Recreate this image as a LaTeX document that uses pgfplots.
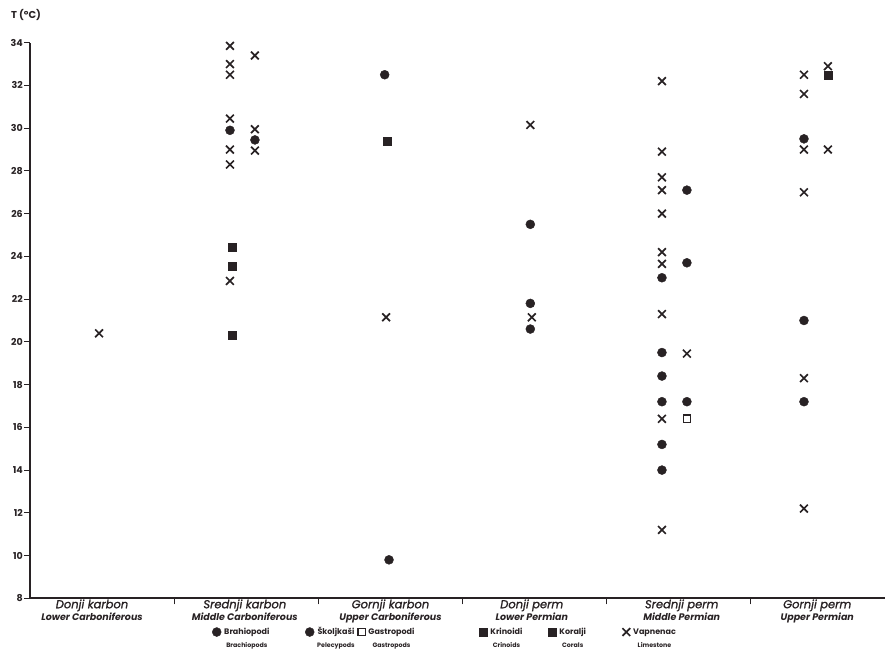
\documentclass[border=0pt]{standalone}
\usepackage{fontspec}
\setmainfont{Poppins}
\newfontfamily\catfont{Poppins}[FakeBold=1.2]
\usepackage{pgfplots}
\pgfplotsset{compat=1.18}
\definecolor{ink}{RGB}{40,34,36}

% legend entry: Croatian name with the English name set small beneath it
\newcommand{\leg}[3]{\makebox[#1][l]{\begin{tabular}[t]{@{}c@{}}#2\\[4pt]{\fontsize{6.3}{6.3}\selectfont #3}\end{tabular}}}

\begin{document}
\begin{tikzpicture}[x=1pt,y=1pt]
% page frame: the axis box runs from (0,0) to (855,555.6)
\useasboundingbox (-30,-61.7) rectangle (858,598.3);
\begin{axis}[
  name=main,
  scale only axis, width=855pt, height=555.6pt,
  xmin=0, xmax=5.93, ymin=8, ymax=34,
  axis x line=bottom, axis y line=left,
  axis line style={-, line width=1.6pt, ink},
  ytick={8,10,...,34},
  xtick={1,2,3,4,5}, xticklabels={},
  tick align=outside,
  major tick length=6pt,
  tick style={line width=1.1pt, ink},
  /pgf/number format/assume math mode=true,
  yticklabel style={font=\fontsize{9.5}{10}\selectfont\bfseries, text=ink, inner sep=1pt},
  extra x ticks={0.43,1.49,2.5,3.48,4.52,5.46},
  extra x tick labels={
    {{\catfont\itshape Donji karbon}\\{\bfseries\itshape\fontsize{9.5}{10}\selectfont Lower Carboniferous}},
    {{\catfont\itshape Srednji karbon}\\{\bfseries\itshape\fontsize{9.5}{10}\selectfont Middle Carboniferous}},
    {{\catfont\itshape Gornji karbon}\\{\bfseries\itshape\fontsize{9.5}{10}\selectfont Upper Carboniferous}},
    {{\catfont\itshape Donji perm}\\{\bfseries\itshape\fontsize{9.5}{10}\selectfont Lower Permian}},
    {{\catfont\itshape Srednji perm}\\{\bfseries\itshape\fontsize{9.5}{10}\selectfont Middle Permian}},
    {{\catfont\itshape Gornji perm}\\{\bfseries\itshape\fontsize{9.5}{10}\selectfont Upper Permian}}},
  extra x tick style={major tick length=0pt,
    xticklabel style={align=center, font=\fontsize{11.5}{12}\selectfont, text=ink, inner sep=1pt}},
  clip=false,
  legend columns=6,
  legend image code/.code={\path (0pt,0pt) (6pt,0pt); \draw[#1] plot coordinates {(3pt,2.9pt)};},
  legend style={
    at={(axis description cs:0.2129,-0.0520)}, anchor=north west,
    draw=none, fill=none, inner sep=0pt,
    font=\fontsize{8}{9}\selectfont\bfseries, text=ink,
    column sep=0pt,
    /tikz/every odd column/.append style={column sep=3pt},
    nodes={anchor=base west, inner sep=0pt},
  },
  every axis plot/.append style={only marks, ink},
]
% Brahiopodi / Brachiopods
\addplot[mark=*, mark size=4.5pt, mark options={fill=ink, draw=ink}] coordinates {
  (1.387,29.9)
  (2.46,32.5) (2.49,9.8)
  (3.47,25.5) (3.47,21.8) (3.47,20.6)
  (4.383,23.0) (4.383,19.5) (4.383,18.4) (4.383,17.2) (4.383,15.2) (4.383,14.0)
  (5.368,29.5) (5.368,21.0) (5.368,17.2)
};
\addlegendentry{\leg{81pt}{Brahiopodi}{Brachiopods}}
% Skoljkasi / Pelecypods
\addplot[mark=*, mark size=4.5pt, mark options={fill=ink, draw=ink}] coordinates {
  (1.56,29.45)
  (4.556,27.1) (4.556,23.7) (4.556,17.2)
};
\addlegendentry{\leg{41pt}{Školjkaši}{Pelecypods}}
% Gastropodi / Gastropods
\addplot[mark=square, mark size=3.6pt, mark options={line width=1.5pt, draw=ink, fill=white}] coordinates {
  (4.556,16.4)
};
\addlegendentry{\leg{111pt}{Gastropodi}{Gastropods}}
% Krinoidi / Crinoids
\addplot[mark=square*, mark size=4pt, mark options={fill=ink, draw=ink}] coordinates {
  (1.40,24.45) (1.40,23.55)
  (2.48,29.4)
  (5.534,32.5)
};
\addlegendentry{\leg{58pt}{Krinoidi}{Crinoids}}
% Koralji / Corals
\addplot[mark=square*, mark size=4pt, mark options={fill=ink, draw=ink}] coordinates {
  (1.40,20.3)
};
\addlegendentry{\leg{63pt}{Koralji}{Corals}}
% Vapnenac / Limestone
\addplot[mark=x, mark size=5.5pt, mark options={line width=1.7pt, draw=ink}] coordinates {
  (0.479,20.4)
  (1.387,33.85) (1.387,33.0) (1.387,32.5) (1.387,30.45) (1.387,29.0) (1.387,28.3) (1.387,22.85)
  (1.56,33.4) (1.56,29.95) (1.56,28.95)
  (2.47,21.15)
  (3.47,30.15) (3.48,21.15)
  (4.383,32.2) (4.383,28.9) (4.383,27.7) (4.383,27.1) (4.383,26.0) (4.383,24.2) (4.383,23.65)
  (4.383,21.3) (4.383,16.4) (4.383,11.2)
  (4.556,19.45)
  (5.368,32.5) (5.368,31.6) (5.368,29.0) (5.368,27.0) (5.368,18.3) (5.368,12.2)
  (5.534,32.9) (5.534,29.0)
};
\addlegendentry{\leg{60pt}{Vapnenac}{Limestone}}
\end{axis}
\node[anchor=west, inner sep=0pt, text=ink, font=\fontsize{10}{10}\selectfont\bfseries] at (-19,583) {T (°C)};
\end{tikzpicture}
\end{document}
